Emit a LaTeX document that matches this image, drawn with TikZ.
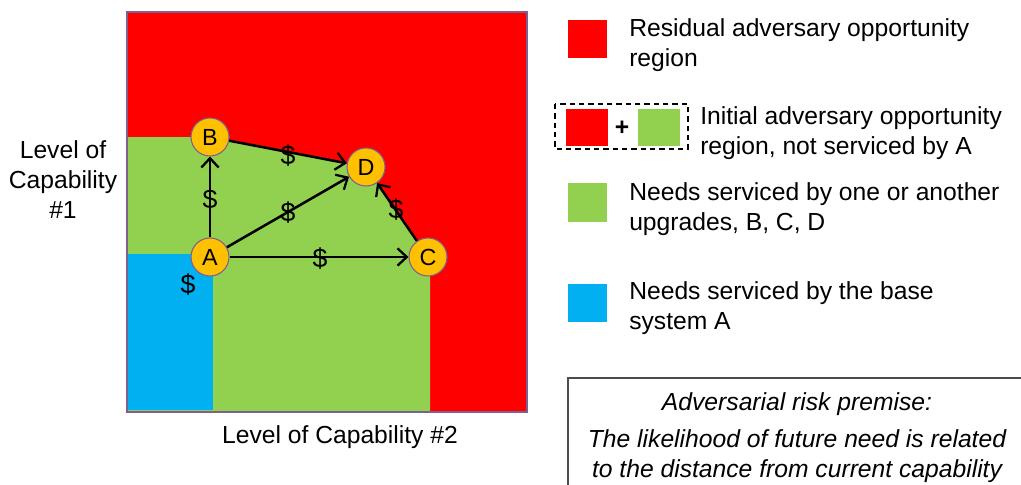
\documentclass[tikz,border=0pt]{standalone}
\usepackage{fontspec}
\setmainfont{Liberation Sans}
\usetikzlibrary{arrows.meta}
\definecolor{rred}{HTML}{FF0000}
\definecolor{ggreen}{HTML}{92D050}
\definecolor{bblue}{HTML}{00B0F0}
\definecolor{oorange}{HTML}{FFC000}
\definecolor{ppurple}{HTML}{7F5F8F}
\tikzset{
  txt/.style={font=\fontsize{18.5}{22.5}\selectfont, inner sep=0pt},
  upg/.style={circle, fill=oorange, draw=ppurple, line width=0.8pt, minimum size=28.5pt, inner sep=0pt, font=\fontsize{17.5}{20}\selectfont},
  edge/.style={line width=1.9pt, -{Straight Barb[length=7pt,width=13pt,line width=1.7pt]}},
  cost/.style={font=\fontsize{20}{22}\selectfont, inner sep=0pt},
  leg/.style={txt, anchor=west, align=left},
}
\begin{document}
\begin{tikzpicture}[x=0.75pt,y=-0.75pt]
\useasboundingbox (0,0) rectangle (1021,485);
% plot regions
\fill[rred] (127,12) rectangle (527,412);
\fill[ggreen] (127,137) -- (210,137) -- (366,167) -- (428,257) -- (430,262) -- (430,412) -- (127,412) -- cycle;
\fill[bblue] (127,254) rectangle (213,410);
\draw[ppurple, line width=1.2pt] (127,12) rectangle (527,412);
% nodes
\node[upg] (B) at (210,137) {B};
\node[upg] (A) at (210,257) {A};
\node[upg] (D) at (366,167) {D};
\node[upg] (C) at (428,257) {C};
\draw[edge] (A) -- (B);
\draw[edge] (A) -- (D);
\draw[edge] (A) -- (C);
\draw[edge] (B) -- (D);
\draw[edge] (C) -- (D);
\node[cost] (c1) at (210,200) {\$};
\node[cost] (c2) at (288,156) {\$};
\node[cost] (c3) at (288,213) {\$};
\node[cost] (c4) at (320,259) {\$};
\node[cost] (c5) at (396,210) {\$};
\node[cost] (c6) at (188,285) {\$};
% axis labels
\node[txt, align=center] (y1) at (63,180) {Level of\\Capability\\\#1};
\node[txt] (x2) at (340,437) {Level of Capability \#2};
% legend
\fill[rred] (568,20) rectangle (607,58);
\node[leg] (l1) at (629,45) {Residual adversary opportunity\\region};
\draw[dashed, line width=1.2pt, dash pattern=on 4pt off 3pt] (555,104) rectangle (688,149);
\fill[rred] (566,109) rectangle (608,146);
\node[txt, font=\bfseries\fontsize{18.5}{22.5}\selectfont] (plus) at (622,128) {+};
\fill[ggreen] (638,109) rectangle (680,146);
\node[leg] (l2) at (700,133) {Initial adversary opportunity\\region, not serviced by A};
\fill[ggreen] (568,183) rectangle (607,222);
\node[leg] (l3) at (629,209) {Needs serviced by one or another\\upgrades, B, C, D};
\fill[bblue] (568,284) rectangle (607,322);
\node[leg] (l4) at (629,308) {Needs serviced by the base\\system A};
% premise box
\draw[black!70, line width=1pt] (568,485) -- (568,378) -- (1021,378);
\node[txt, font=\itshape\fontsize{18.5}{22.5}\selectfont] (p1) at (797,404) {Adversarial risk premise:};
\node[txt, font=\itshape\fontsize{18.5}{22.5}\selectfont, align=center] (p2) at (797,456) {The likelihood of future need is related\\to the distance from current capability};
\end{tikzpicture}
\end{document}
